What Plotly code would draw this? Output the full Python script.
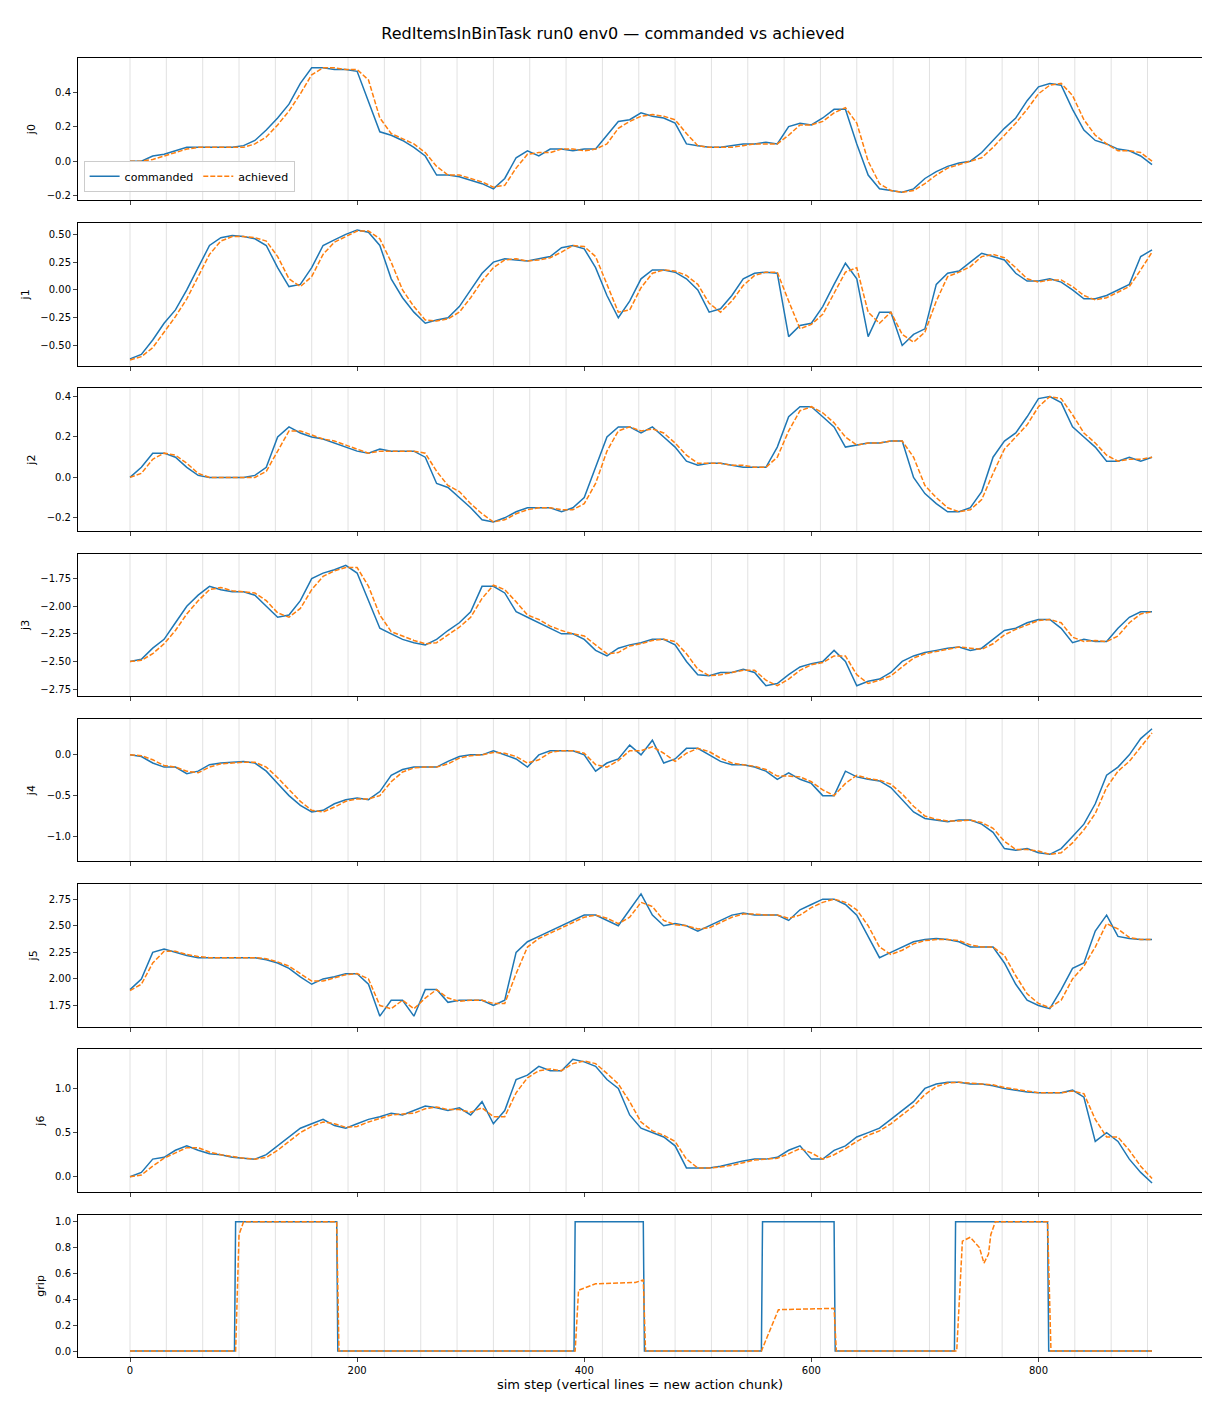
import plotly.graph_objects as go
from plotly.subplots import make_subplots

steps = list(range(0, 901, 10))

j0_cmd = [0.0,0.0,0.03,0.04,0.06,0.08,0.08,0.08,0.08,0.08,0.09,0.12,0.18,0.25,0.33,0.45,0.54,0.54,0.53,0.53,0.52,0.35,0.17,0.15,0.12,0.08,0.03,-0.08,-0.08,-0.09,-0.11,-0.13,-0.16,-0.1,0.02,0.06,0.03,0.07,0.07,0.06,0.07,0.07,0.15,0.23,0.24,0.28,0.26,0.25,0.22,0.1,0.09,0.08,0.08,0.09,0.1,0.1,0.11,0.1,0.2,0.22,0.21,0.25,0.3,0.3,0.1,-0.08,-0.16,-0.17,-0.18,-0.16,-0.1,-0.06,-0.03,-0.01,0.0,0.05,0.12,0.19,0.25,0.35,0.43,0.45,0.44,0.3,0.18,0.12,0.1,0.07,0.06,0.03,-0.02]
j0_ach = [0.0,0.0,0.01,0.03,0.05,0.07,0.08,0.08,0.08,0.08,0.08,0.1,0.14,0.21,0.29,0.39,0.5,0.54,0.54,0.53,0.53,0.47,0.25,0.16,0.13,0.1,0.05,-0.03,-0.08,-0.08,-0.1,-0.12,-0.15,-0.14,-0.04,0.04,0.05,0.05,0.07,0.07,0.06,0.07,0.1,0.19,0.23,0.26,0.27,0.26,0.24,0.16,0.09,0.08,0.08,0.08,0.09,0.1,0.1,0.1,0.15,0.21,0.21,0.23,0.28,0.31,0.22,0.0,-0.13,-0.17,-0.18,-0.17,-0.13,-0.08,-0.04,-0.02,0.0,0.02,0.08,0.15,0.22,0.3,0.39,0.44,0.45,0.38,0.24,0.15,0.1,0.06,0.06,0.05,0.0]

j1_cmd = [-0.62,-0.58,-0.45,-0.3,-0.18,0.0,0.2,0.4,0.47,0.49,0.48,0.46,0.4,0.2,0.03,0.05,0.2,0.4,0.45,0.5,0.54,0.52,0.4,0.1,-0.07,-0.2,-0.3,-0.27,-0.25,-0.15,0.0,0.15,0.25,0.28,0.27,0.26,0.28,0.3,0.38,0.4,0.37,0.2,-0.05,-0.25,-0.1,0.1,0.18,0.18,0.16,0.1,0.0,-0.2,-0.17,-0.05,0.1,0.15,0.16,0.15,-0.42,-0.32,-0.3,-0.15,0.05,0.24,0.1,-0.42,-0.2,-0.2,-0.5,-0.4,-0.35,0.05,0.15,0.17,0.25,0.33,0.3,0.27,0.15,0.08,0.08,0.1,0.07,0.0,-0.08,-0.08,-0.05,0.0,0.05,0.3,0.36]
j1_ach = [-0.63,-0.6,-0.52,-0.38,-0.24,-0.08,0.12,0.32,0.44,0.48,0.48,0.47,0.44,0.3,0.1,0.03,0.12,0.32,0.43,0.48,0.53,0.53,0.46,0.25,0.0,-0.15,-0.27,-0.28,-0.26,-0.2,-0.07,0.08,0.2,0.27,0.28,0.26,0.27,0.29,0.34,0.4,0.39,0.3,0.05,-0.2,-0.18,0.02,0.15,0.18,0.17,0.13,0.05,-0.12,-0.2,-0.1,0.04,0.13,0.16,0.16,-0.1,-0.35,-0.31,-0.22,-0.03,0.16,0.2,-0.2,-0.3,-0.2,-0.4,-0.47,-0.38,-0.1,0.12,0.16,0.21,0.3,0.32,0.29,0.2,0.1,0.07,0.09,0.09,0.03,-0.05,-0.09,-0.07,-0.02,0.03,0.18,0.34]

j2_cmd = [0.0,0.05,0.12,0.12,0.1,0.05,0.01,0.0,0.0,0.0,0.0,0.01,0.05,0.2,0.25,0.22,0.2,0.19,0.17,0.15,0.13,0.12,0.14,0.13,0.13,0.13,0.1,-0.03,-0.05,-0.1,-0.15,-0.21,-0.22,-0.2,-0.17,-0.15,-0.15,-0.15,-0.17,-0.15,-0.1,0.05,0.2,0.25,0.25,0.22,0.25,0.2,0.15,0.08,0.06,0.07,0.07,0.06,0.05,0.05,0.05,0.15,0.3,0.35,0.35,0.3,0.25,0.15,0.16,0.17,0.17,0.18,0.18,0.0,-0.08,-0.13,-0.17,-0.17,-0.15,-0.07,0.1,0.18,0.22,0.3,0.39,0.4,0.37,0.25,0.2,0.15,0.08,0.08,0.1,0.08,0.1]
j2_ach = [0.0,0.02,0.09,0.12,0.11,0.07,0.02,0.0,0.0,0.0,0.0,0.0,0.03,0.13,0.23,0.23,0.21,0.19,0.18,0.16,0.14,0.12,0.13,0.13,0.13,0.13,0.12,0.03,-0.04,-0.07,-0.13,-0.18,-0.22,-0.21,-0.18,-0.16,-0.15,-0.15,-0.16,-0.16,-0.13,-0.03,0.13,0.23,0.25,0.23,0.24,0.22,0.17,0.11,0.07,0.07,0.07,0.06,0.06,0.05,0.05,0.1,0.23,0.33,0.35,0.32,0.27,0.2,0.16,0.17,0.17,0.18,0.18,0.1,-0.04,-0.1,-0.15,-0.17,-0.16,-0.11,0.02,0.14,0.2,0.26,0.35,0.4,0.39,0.31,0.22,0.17,0.11,0.08,0.09,0.09,0.1]

j3_cmd = [-2.5,-2.48,-2.38,-2.3,-2.15,-2.0,-1.9,-1.82,-1.85,-1.87,-1.87,-1.9,-2.0,-2.1,-2.08,-1.95,-1.75,-1.7,-1.67,-1.63,-1.7,-1.95,-2.2,-2.25,-2.3,-2.33,-2.35,-2.3,-2.22,-2.15,-2.05,-1.82,-1.82,-1.88,-2.05,-2.1,-2.15,-2.2,-2.25,-2.25,-2.3,-2.4,-2.45,-2.38,-2.35,-2.33,-2.3,-2.3,-2.35,-2.5,-2.62,-2.63,-2.6,-2.6,-2.57,-2.6,-2.72,-2.7,-2.62,-2.55,-2.52,-2.5,-2.4,-2.5,-2.72,-2.68,-2.66,-2.6,-2.5,-2.45,-2.42,-2.4,-2.38,-2.37,-2.4,-2.38,-2.3,-2.22,-2.2,-2.15,-2.12,-2.12,-2.2,-2.33,-2.3,-2.32,-2.32,-2.2,-2.1,-2.05,-2.05]
j3_ach = [-2.5,-2.49,-2.43,-2.34,-2.22,-2.07,-1.95,-1.85,-1.83,-1.86,-1.87,-1.88,-1.95,-2.06,-2.1,-2.02,-1.85,-1.73,-1.68,-1.65,-1.65,-1.82,-2.08,-2.23,-2.27,-2.31,-2.34,-2.33,-2.26,-2.19,-2.1,-1.93,-1.81,-1.85,-1.96,-2.08,-2.12,-2.18,-2.22,-2.25,-2.27,-2.35,-2.43,-2.42,-2.36,-2.34,-2.31,-2.3,-2.32,-2.43,-2.57,-2.63,-2.62,-2.6,-2.58,-2.58,-2.67,-2.72,-2.66,-2.58,-2.53,-2.51,-2.45,-2.45,-2.62,-2.7,-2.67,-2.63,-2.55,-2.47,-2.43,-2.41,-2.39,-2.37,-2.38,-2.39,-2.34,-2.26,-2.21,-2.17,-2.13,-2.12,-2.15,-2.28,-2.32,-2.31,-2.32,-2.27,-2.15,-2.07,-2.05]

j4_cmd = [0.0,-0.02,-0.1,-0.15,-0.15,-0.23,-0.2,-0.12,-0.1,-0.09,-0.08,-0.1,-0.2,-0.35,-0.5,-0.62,-0.7,-0.68,-0.6,-0.55,-0.53,-0.55,-0.45,-0.25,-0.18,-0.15,-0.15,-0.15,-0.08,-0.02,0.0,0.0,0.05,0.0,-0.05,-0.15,0.0,0.05,0.05,0.05,0.0,-0.2,-0.1,-0.05,0.12,0.0,0.18,-0.1,-0.05,0.08,0.08,0.0,-0.08,-0.12,-0.12,-0.15,-0.2,-0.3,-0.22,-0.3,-0.35,-0.5,-0.5,-0.2,-0.27,-0.3,-0.32,-0.4,-0.55,-0.7,-0.78,-0.8,-0.82,-0.8,-0.8,-0.85,-0.95,-1.15,-1.17,-1.15,-1.2,-1.22,-1.15,-1.0,-0.85,-0.6,-0.25,-0.15,0.0,0.2,0.32]
j4_ach = [0.0,-0.01,-0.06,-0.13,-0.15,-0.2,-0.22,-0.15,-0.11,-0.1,-0.09,-0.09,-0.15,-0.28,-0.43,-0.57,-0.68,-0.7,-0.64,-0.57,-0.54,-0.54,-0.5,-0.33,-0.21,-0.16,-0.15,-0.15,-0.11,-0.04,-0.01,0.0,0.03,0.02,-0.02,-0.1,-0.06,0.03,0.05,0.05,0.02,-0.12,-0.15,-0.07,0.05,0.05,0.1,0.02,-0.08,0.02,0.08,0.04,-0.04,-0.1,-0.12,-0.14,-0.18,-0.26,-0.26,-0.27,-0.33,-0.43,-0.5,-0.35,-0.25,-0.29,-0.31,-0.36,-0.48,-0.63,-0.75,-0.79,-0.81,-0.81,-0.8,-0.83,-0.9,-1.06,-1.16,-1.16,-1.18,-1.22,-1.2,-1.08,-0.92,-0.72,-0.4,-0.2,-0.08,0.1,0.27]

j5_cmd = [1.9,2.0,2.25,2.28,2.25,2.22,2.2,2.2,2.2,2.2,2.2,2.2,2.18,2.15,2.1,2.02,1.95,2.0,2.02,2.05,2.05,1.95,1.65,1.8,1.8,1.65,1.9,1.9,1.78,1.8,1.8,1.8,1.75,1.8,2.25,2.35,2.4,2.45,2.5,2.55,2.6,2.6,2.55,2.5,2.65,2.8,2.6,2.5,2.52,2.5,2.45,2.5,2.55,2.6,2.62,2.6,2.6,2.6,2.55,2.65,2.7,2.75,2.75,2.7,2.6,2.4,2.2,2.25,2.3,2.35,2.37,2.38,2.37,2.35,2.3,2.3,2.3,2.15,1.95,1.8,1.75,1.72,1.9,2.1,2.15,2.45,2.6,2.4,2.38,2.37,2.37]
j5_ach = [1.89,1.95,2.15,2.26,2.26,2.23,2.21,2.2,2.2,2.2,2.2,2.2,2.19,2.16,2.12,2.05,1.98,1.98,2.01,2.04,2.05,2.0,1.75,1.72,1.8,1.72,1.82,1.9,1.82,1.79,1.8,1.8,1.77,1.77,2.05,2.3,2.38,2.43,2.48,2.53,2.58,2.6,2.57,2.52,2.58,2.72,2.68,2.55,2.51,2.5,2.47,2.48,2.53,2.58,2.61,2.61,2.6,2.6,2.57,2.6,2.67,2.72,2.75,2.72,2.65,2.5,2.3,2.23,2.27,2.33,2.36,2.37,2.37,2.36,2.32,2.3,2.3,2.22,2.03,1.86,1.77,1.73,1.8,2.0,2.12,2.3,2.52,2.47,2.39,2.37,2.37]

j6_cmd = [0.0,0.05,0.2,0.22,0.3,0.35,0.3,0.26,0.25,0.22,0.21,0.2,0.25,0.35,0.45,0.55,0.6,0.65,0.58,0.55,0.6,0.65,0.68,0.72,0.7,0.75,0.8,0.78,0.75,0.78,0.7,0.85,0.6,0.75,1.1,1.15,1.25,1.2,1.2,1.33,1.3,1.25,1.1,1.0,0.7,0.55,0.5,0.45,0.35,0.1,0.1,0.1,0.12,0.15,0.18,0.2,0.2,0.22,0.3,0.35,0.2,0.2,0.3,0.35,0.45,0.5,0.55,0.65,0.75,0.85,1.0,1.05,1.07,1.07,1.05,1.05,1.03,1.0,0.98,0.96,0.95,0.95,0.95,0.98,0.9,0.4,0.5,0.4,0.2,0.05,-0.07]
j6_ach = [0.0,0.02,0.12,0.21,0.27,0.33,0.33,0.28,0.25,0.23,0.21,0.2,0.22,0.3,0.4,0.5,0.57,0.62,0.6,0.56,0.57,0.62,0.66,0.7,0.71,0.72,0.77,0.79,0.76,0.76,0.73,0.78,0.68,0.68,0.95,1.12,1.2,1.22,1.2,1.28,1.31,1.28,1.17,1.05,0.85,0.62,0.52,0.47,0.4,0.2,0.1,0.1,0.11,0.13,0.16,0.19,0.2,0.21,0.26,0.32,0.27,0.2,0.25,0.32,0.4,0.47,0.52,0.6,0.7,0.8,0.93,1.02,1.06,1.07,1.06,1.05,1.04,1.01,0.99,0.97,0.95,0.95,0.95,0.97,0.94,0.65,0.45,0.45,0.3,0.12,-0.02]

grip_cmd_x = [0, 92, 93, 182, 183, 391, 392, 452, 453, 556, 557, 620, 621, 726, 727, 808, 809, 900]
grip_cmd = [0, 0, 1, 1, 0, 0, 1, 1, 0, 0, 1, 1, 0, 0, 1, 1, 0, 0]
grip_ach_x = [0, 93, 96, 100, 182, 184, 392, 395, 410, 445, 452, 454, 556, 571, 620, 622, 728, 733, 740, 748, 752, 756, 758, 762, 808, 811, 900]
grip_ach = [0, 0, 0.9, 1.0, 1.0, 0, 0, 0.47, 0.52, 0.53, 0.55, 0, 0, 0.32, 0.33, 0, 0, 0.85, 0.88, 0.8, 0.68, 0.75, 0.9, 1.0, 1.0, 0, 0]

chunk_starts = list(range(0, 900, 32))

panels = [
    ("j0", steps, j0_cmd, steps, j0_ach, [-0.226, 0.597], 0.2, ".1f"),
    ("j1", steps, j1_cmd, steps, j1_ach, [-0.68, 0.6], 0.25, ".2f"),
    ("j2", steps, j2_cmd, steps, j2_ach, [-0.264, 0.44], 0.2, ".1f"),
    ("j3", steps, j3_cmd, steps, j3_ach, [-2.813, -1.525], 0.25, ".2f"),
    ("j4", steps, j4_cmd, steps, j4_ach, [-1.305, 0.44], 0.5, ".1f"),
    ("j5", steps, j5_cmd, steps, j5_ach, [1.553, 2.89], 0.25, ".2f"),
    ("j6", steps, j6_cmd, steps, j6_ach, [-0.169, 1.44], 0.5, ".1f"),
    ("grip", grip_cmd_x, grip_cmd, grip_ach_x, grip_ach, [-0.046, 1.054], 0.2, ".1f"),
]

fig = make_subplots(rows=8, cols=1, shared_xaxes=True, vertical_spacing=0.0177)

for i, (name, xc, yc, xa, ya, rng, dt, fmt) in enumerate(panels, start=1):
    for c in chunk_starts:
        fig.add_shape(type="line", x0=c, x1=c, y0=0, y1=1, xref="x" if i == 1 else f"x{i}",
                      yref="y domain" if i == 1 else f"y{i} domain",
                      line=dict(color="rgba(128,128,128,0.3)", width=0.8), layer="below")
    fig.add_trace(go.Scatter(x=xc, y=yc, mode="lines", name="commanded", showlegend=(i == 1),
                             line=dict(color="#1f77b4", width=1.5)), row=i, col=1)
    fig.add_trace(go.Scatter(x=xa, y=ya, mode="lines", name="achieved", showlegend=(i == 1),
                             line=dict(color="#ff7f0e", width=1.5, dash="5px,2px")), row=i, col=1)
    fig.update_yaxes(range=rng, dtick=dt, tickformat=fmt, title_text=name, title_font_size=11,
                     title_standoff=8, row=i, col=1)

fig.update_xaxes(range=[-45.8, 944], showgrid=False, zeroline=False, showline=True, mirror=True,
                 linecolor="black", linewidth=1, ticks="outside", tickvals=[0, 200, 400, 600, 800],
                 tickfont_size=10, ticklen=4, automargin=False)
fig.update_yaxes(showgrid=False, zeroline=False, showline=True, mirror=True, linecolor="black",
                 linewidth=1, ticks="outside", tickfont_size=10, ticklen=4, automargin=False)
fig.update_xaxes(title_text="sim step (vertical lines = new action chunk)", title_font_size=13,
                 title_standoff=4, row=8, col=1)

fig.update_layout(
    width=1210, height=1408,
    title=dict(text="RedItemsInBinTask run0 env0 \u2014 commanded vs achieved", x=0.5, xanchor="center",
               y=0.986, yanchor="top", font=dict(size=16, color="black"), automargin=False),
    font=dict(family="DejaVu Sans", color="black"),
    plot_bgcolor="white", paper_bgcolor="white",
    margin=dict(l=70, r=16, t=50, b=59, autoexpand=False),
    legend=dict(orientation="h", x=0.005, y=0.897, xanchor="left", yanchor="bottom",
                bgcolor="rgba(255,255,255,0.8)", bordercolor="#cccccc", borderwidth=1,
                font=dict(size=11)),
)

fig.write_html("out.html")
